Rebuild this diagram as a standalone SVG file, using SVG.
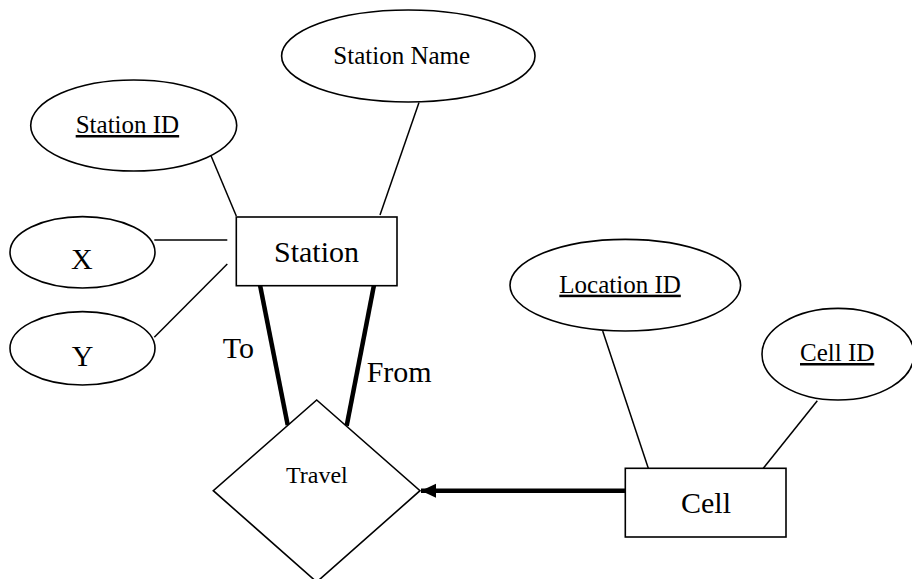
<svg xmlns="http://www.w3.org/2000/svg" width="912" height="579" viewBox="0 0 912 579">
<style>
  .shape { fill: #fff; stroke: #000; stroke-width: 1.6; }
  .thin { stroke: #000; stroke-width: 1.5; fill: none; }
  .thick { stroke: #000; stroke-width: 4.5; fill: none; }
  text { font-family: "Liberation Serif", "Times New Roman", serif; fill: #000; }
  .attr { font-size: 25px; }
  .big { font-size: 30px; }
  .rel { font-size: 24px; }
  .key { text-decoration: underline; }
</style>
<defs>
  <marker id="arrow" markerUnits="userSpaceOnUse" markerWidth="16" markerHeight="16" refX="15" refY="8" orient="auto">
    <path d="M0,1 L15,8 L0,15 Z" fill="#000"/>
  </marker>
</defs>
<rect width="912" height="579" fill="#fff"/>
<g id="connectors">
  <line class="thin" x1="211" y1="155.7" x2="236.3" y2="216"/>
  <line class="thin" x1="419" y1="102.5" x2="380" y2="215"/>
  <line class="thin" x1="154.3" y1="240" x2="227.3" y2="240"/>
  <line class="thin" x1="154.3" y1="337.3" x2="227.3" y2="264"/>
  <line class="thick" x1="260" y1="285" x2="287.7" y2="425"/>
  <line class="thick" x1="374" y1="285" x2="346.7" y2="425.7"/>
  <line class="thin" x1="602.7" y1="331" x2="648.3" y2="468.3"/>
  <line class="thin" x1="817.3" y1="400.7" x2="763.3" y2="468.3"/>
  <line class="thick" x1="625.7" y1="490.7" x2="421" y2="490.7" marker-end="url(#arrow)"/>
  <text class="big" x="222.7" y="357.7">To</text>
  <text class="big" x="366.7" y="381.7">From</text>
</g>
<g id="station-id">
  <ellipse class="shape" cx="133.7" cy="125.5" rx="103" ry="45.5"/>
  <text class="attr key" x="75.7" y="133">Station ID</text>
</g>
<g id="station-name">
  <ellipse class="shape" cx="408.3" cy="56" rx="126.7" ry="46"/>
  <text class="attr" x="333.3" y="64">Station Name</text>
</g>
<g id="station">
  <rect class="shape" x="236.3" y="217" width="160.7" height="68.7"/>
  <text class="big" x="274" y="262">Station</text>
</g>
<g id="x">
  <ellipse class="shape" cx="82.5" cy="252.3" rx="72.5" ry="35.7"/>
  <text class="big" x="71" y="269.3">X</text>
</g>
<g id="y">
  <ellipse class="shape" cx="82.5" cy="348.3" rx="72.5" ry="36.7"/>
  <text class="big" x="71.7" y="365.7">Y</text>
</g>
<g id="travel">
  <polygon class="shape" points="316.7,400 420,490.7 316.7,582 213.3,490.7"/>
  <text class="rel" x="286" y="482.7">Travel</text>
</g>
<g id="location-id">
  <ellipse class="shape" cx="625.3" cy="285.2" rx="115.3" ry="45.8"/>
  <text class="attr key" x="559.3" y="292.7">Location ID</text>
</g>
<g id="cell-id">
  <ellipse class="shape" cx="838" cy="354.2" rx="76" ry="45.8"/>
  <text class="attr key" x="800" y="361">Cell ID</text>
</g>
<g id="cell">
  <rect class="shape" x="625.3" y="468.3" width="160.7" height="68.7"/>
  <text class="big" x="681" y="512.7">Cell</text>
</g>
</svg>
